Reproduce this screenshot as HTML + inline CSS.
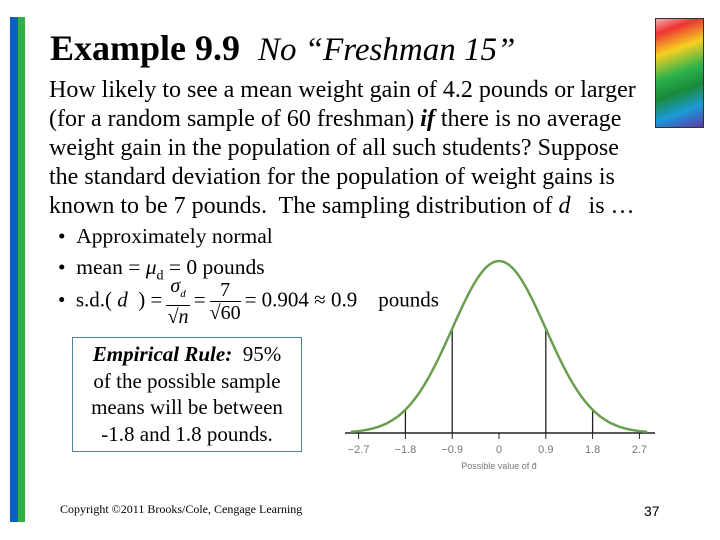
<!DOCTYPE html>
<html><head><meta charset="utf-8"><style>
body{margin:0;width:720px;height:540px;background:#fff;position:relative;overflow:hidden;font-family:"Liberation Serif",serif;color:#000}
.a{position:absolute;white-space:nowrap}
.fr{display:inline-block;vertical-align:middle;text-align:center;font-size:20px;line-height:22px;margin:0 4px}
.fr span{display:block}
.fr .n{border-bottom:1px solid #000;padding:0 4px}
</style></head><body>
<div class="a" style="left:10px;top:17px;width:8px;height:505px;background:#0a5fc4"></div>
<div class="a" style="left:18px;top:17px;width:7px;height:505px;background:#2fb13b"></div>
<div class="a" style="left:655px;top:18px;width:47px;height:108px;border:1px solid #333;background:linear-gradient(160deg,#f4b0b0 0%,#e33 12%,#f5d020 30%,#2bb24c 50%,#1a8a3a 65%,#1a9ad6 82%,#5b3aa8 100%)"></div>
<div class="a" style="left:50px;top:27px;font-size:36px;line-height:42px"><b>Example 9.9</b> &nbsp;<i style="font-size:33px">No “Freshman 15”</i></div>
<div class="a" style="left:49px;top:76px;font-size:24px;line-height:29px">How likely to see a mean weight gain of 4.2 pounds or larger<br>(for a random sample of 60 freshman) <b><i>if</i></b> there is no average<br>weight gain in the population of all such students? Suppose<br>the standard deviation for the population of weight gains is<br>known to be 7 pounds.&nbsp; The sampling distribution of <i>d</i>&nbsp;&nbsp; is …</div>
<div class="a" style="left:58px;top:221px;font-size:21.5px;line-height:31px">• &nbsp;Approximately normal<br>• &nbsp;mean = <i>μ</i><sub style="font-size:14px">d</sub> = 0 pounds</div>
<div class="a" style="left:58px;top:275px;font-size:21px">• &nbsp;s.d.( <i>d</i> &nbsp;) =<span class="fr"><span class="n"><i>σ<sub style="font-size:11px">d</sub></i></span><span>√<i>n</i></span></span>=<span class="fr"><span class="n">7</span><span>√60</span></span>= 0.904 ≈ 0.9 &nbsp;&nbsp;&nbsp;pounds</div>
<div class="a" style="left:72px;top:337px;width:230px;height:115px;border:1.5px solid #4f7f9a;font-size:21px;line-height:26.5px;text-align:center;box-sizing:border-box;padding-top:3px"><b><i>Empirical Rule:</i></b>&nbsp; 95%<br>of the possible sample<br>means will be between<br>-1.8 and 1.8 pounds.</div>
<svg class="a" style="left:0;top:0" width="720" height="540" id="ch"></svg>
<div class="a" style="left:60px;top:502px;font-size:12px">Copyright ©2011 Brooks/Cole, Cengage Learning</div>
<div class="a" style="left:644px;top:503px;font-size:14px;font-family:'Liberation Sans',sans-serif">37</div>
<script>
const tickValues=[-2.7,-1.8,-0.9,0,0.9,1.8,2.7];
const tickLabels=["−2.7","−1.8","−0.9","0","0.9","1.8","2.7"];
const refLines=[-1.8,-0.9,0.9,1.8];
const sd=0.9, mean=0;
const ns="http://www.w3.org/2000/svg";
const svg=document.getElementById('ch');
const x=v=>499+v*(46.8/0.9);
const y0=433, peakH=172;
const y=d=>y0-d*peakH;
const pdf=v=>Math.exp(-0.5*Math.pow((v-mean)/sd,2));
function mk(t,a){const e=document.createElementNS(ns,t);for(const k in a)e.setAttribute(k,a[k]);svg.appendChild(e);return e;}
const ax=mk('line',{x1:345,x2:655,y1:y0,y2:y0,stroke:'#222','stroke-width':1.5});


refLines.forEach(v=>{const l=mk('line',{x1:x(v),x2:x(v),y1:y0,y2:y(pdf(v)),stroke:'#222','stroke-width':1.3});

});
tickValues.forEach((v,i)=>{const t=mk('line',{x1:x(v),x2:x(v),y1:y0,y2:y0+6,stroke:'#222'});


const tx=mk('text',{x:x(v),y:y0+20,'text-anchor':'middle','font-size':11,fill:'#777','font-family':'Liberation Sans,sans-serif'});
tx.textContent=tickLabels[i];

});
let d='';for(let v=-2.85;v<=2.851;v+=0.05){d+=(d?'L':'M')+x(v).toFixed(1)+','+y(pdf(v)).toFixed(1);}
const c=mk('path',{d:d,fill:'none',stroke:'#6a9e4f','stroke-width':2.5});


const xt=mk('text',{x:499,y:y0+36,'text-anchor':'middle','font-size':9,fill:'#777','font-family':'Liberation Sans,sans-serif'});
xt.textContent='Possible value of d̄';


</script>
</body></html>
